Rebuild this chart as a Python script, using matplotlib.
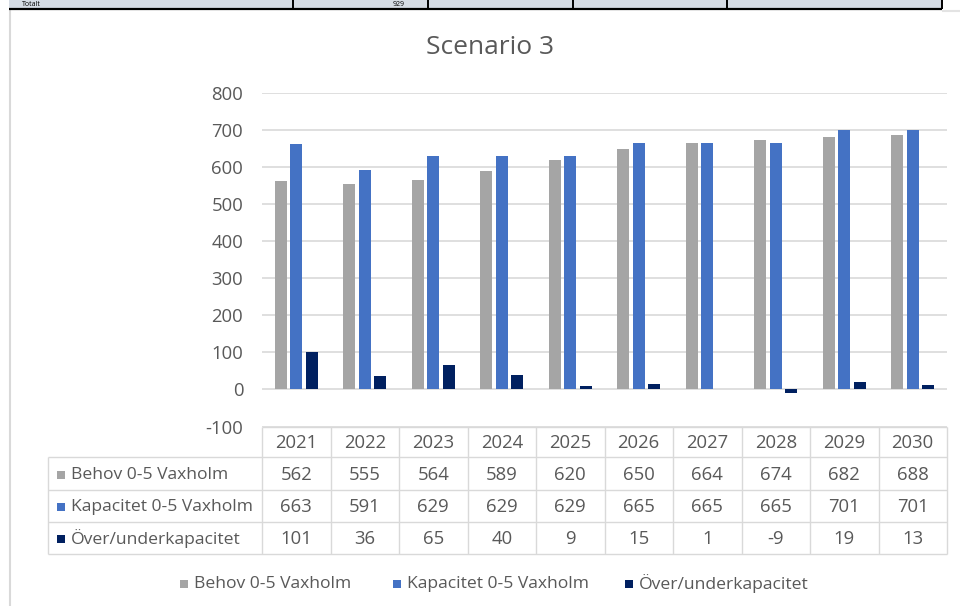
import matplotlib
matplotlib.use("Agg")
import matplotlib.pyplot as plt
from matplotlib.patches import Rectangle
from matplotlib.lines import Line2D

# ---- data ----
years = ['2021', '2022', '2023', '2024', '2025', '2026', '2027', '2028', '2029', '2030']
behov = [562, 555, 564, 589, 620, 650, 664, 674, 682, 688]
kapacitet = [663, 591, 629, 629, 629, 665, 665, 665, 701, 701]
over_under = [101, 36, 65, 40, 9, 15, 1, -9, 19, 13]
series_names = ['Behov 0-5 Vaxholm', 'Kapacitet 0-5 Vaxholm', 'Över/underkapacitet']
series_values = [behov, kapacitet, over_under]
yticks = [-100, 0, 100, 200, 300, 400, 500, 600, 700, 800]
title = 'Scenario 3'
top_table_cells = ['Totalt', '929']

# ---- style ----
colors = ['#A5A5A5', '#4472C4', '#002060']
txt = '#595959'
grid = '#D9D9D9'
plt.rcParams['font.family'] = ['Open Sans', 'DejaVu Sans']
FS_NUM = 13.3
FS_LBL = 12.6

W, H = 960, 606
fig = plt.figure(figsize=(W / 100, H / 100), dpi=100)
bg = fig.add_axes([0, 0, 1, 1])
bg.set_xlim(0, W)
bg.set_ylim(H, 0)
bg.axis('off')


def fy(y):
    return (H - y) / H


def hline(x0, x1, y, c=grid, lw=1.0, z=1):
    bg.add_line(Line2D([x0, x1], [y, y], color=c, lw=lw, zorder=z, solid_capstyle='butt'))


def vline(x, y0, y1, c=grid, lw=1.0, z=1):
    bg.add_line(Line2D([x, x], [y0, y1], color=c, lw=lw, zorder=z, solid_capstyle='butt'))


# ---- fragment of table above the chart ----
bg.add_patch(Rectangle((9, 0), 933, 8.5, facecolor='#D6DCE5', edgecolor='none', zorder=1))
hline(9, 942, 8.5, c='black', lw=1.6, z=2)
for xv in [293, 428, 573, 727, 942]:
    vline(xv, 0, 8.5, c='black', lw=1.4, z=2)
bg.text(22, 6.5, top_table_cells[0], fontsize=5, color='black', va='baseline', ha='left')
bg.text(405, 6.5, top_table_cells[1], fontsize=5, color='black', va='baseline', ha='right')

# chart frame
vline(9.5, 10, H, c='#D9D9D9', lw=1.5)
hline(942, W, 11, c='#E3E3E3', lw=1.5)

# ---- title ----
bg.text(490, 48, title, fontsize=19, color=txt, ha='center', va='center')

# ---- main axes ----
left, right = 262, 947
top_px, bot_px = 93, 426.5
ax = fig.add_axes([left / W, fy(bot_px), (right - left) / W, (bot_px - top_px) / H])
ax.set_xlim(-0.5, len(years) - 0.5)
ax.set_ylim(yticks[0], yticks[-1])
ax.patch.set_alpha(0)
for s in ax.spines.values():
    s.set_visible(False)
ax.set_yticks(yticks)
ax.set_yticklabels([str(v) for v in yticks])
ax.tick_params(axis='y', length=0, pad=13.5, labelsize=FS_NUM, labelcolor=txt)
ax.set_xticks([])
ax.yaxis.grid(True, color=grid, lw=1.2)
ax.set_axisbelow(True)

bw = 0.175
offs = [-0.226, 0.0, 0.226]
xs = list(range(len(years)))
for vals, c, o in zip(series_values, colors, offs):
    ax.bar([x + o for x in xs], vals, width=bw, color=c, zorder=2)

# ---- data table ----
n = len(years)
colw = (right - left) / n
row_edges = [427, 457, 489.5, 521.5, 553.5]
tab_left = 48
hline(left, right, row_edges[0])
for ye in row_edges[1:]:
    hline(tab_left, right, ye)
vline(tab_left, row_edges[1], row_edges[-1])
for i in range(n + 1):
    vline(left + i * colw, row_edges[0], row_edges[-1])

dy = 1.5
for i, yr in enumerate(years):
    cx = left + (i + 0.5) * colw
    bg.text(cx, (row_edges[0] + row_edges[1]) / 2 + dy, yr, fontsize=FS_NUM, color=txt, ha='center', va='center')
    for r, vals in enumerate(series_values):
        yc = (row_edges[r + 1] + row_edges[r + 2]) / 2 + dy
        bg.text(cx, yc, str(vals[i]), fontsize=FS_NUM, color=txt, ha='center', va='center')

for r, (name, c) in enumerate(zip(series_names, colors)):
    yc = (row_edges[r + 1] + row_edges[r + 2]) / 2 + dy
    bg.add_patch(Rectangle((57, yc - 4), 8, 8, facecolor=c, edgecolor='none', zorder=3))
    bg.text(71, yc, name, fontsize=FS_LBL, color=txt, ha='left', va='center')

# ---- legend ----
leg_y = 584
leg_x = [180, 393, 625]
for name, c, lx in zip(series_names, colors, leg_x):
    bg.add_patch(Rectangle((lx, leg_y - 4), 8, 8, facecolor=c, edgecolor='none', zorder=3))
    bg.text(lx + 14, leg_y, name, fontsize=FS_LBL, color=txt, ha='left', va='center')

fig.savefig('out.png', dpi=100)
